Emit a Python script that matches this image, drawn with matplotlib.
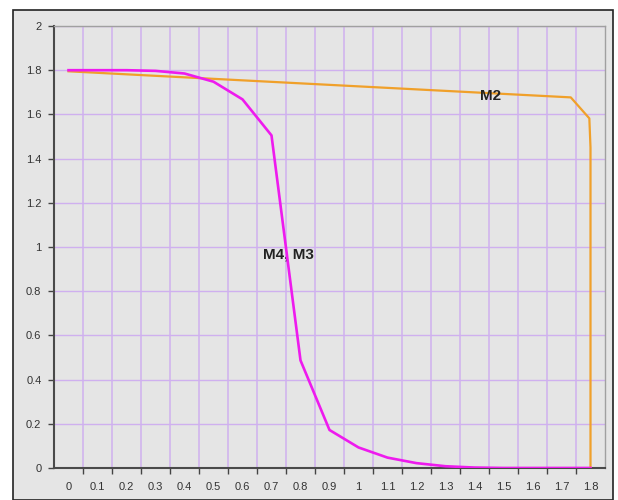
import matplotlib
matplotlib.use("Agg")
import matplotlib.pyplot as plt
from matplotlib.patches import Rectangle
import numpy as np

matplotlib.rcParams['font.family'] = ['Liberation Sans', 'DejaVu Sans']

# Category labels along x (0 .. 1.8)
x_labels = ["0", "0.1", "0.2", "0.3", "0.4", "0.5", "0.6", "0.7", "0.8", "0.9",
            "1", "1.1", "1.2", "1.3", "1.4", "1.5", "1.6", "1.7", "1.8"]
x_values = [0.0, 0.1, 0.2, 0.3, 0.4, 0.5, 0.6, 0.7, 0.8, 0.9,
            1.0, 1.1, 1.2, 1.3, 1.4, 1.5, 1.6, 1.7, 1.8]

# M4, M3 curve
m43_y = [1.80, 1.80, 1.80, 1.797, 1.785, 1.748, 1.668, 1.505, 0.487, 0.172,
         0.093, 0.047, 0.022, 0.008, 0.002, 0.0, 0.0, 0.0, 0.0]

# M2 curve
m2_x = [0.0, 1.732, 1.796, 1.80, 1.80]
m2_y = [1.795, 1.677, 1.582, 1.45, 0.0]

y_ticks = [0, 0.2, 0.4, 0.6, 0.8, 1, 1.2, 1.4, 1.6, 1.8, 2]
y_labels = ["0", "0.2", "0.4", "0.6", "0.8", "1", "1.2", "1.4", "1.6", "1.8", "2"]

BG = "#e5e5e5"
GRID = "#cfb0ef"
TXT = "#333333"

W, H = 618, 500
fig = plt.figure(figsize=(W / 100, H / 100), dpi=100)
fig.patch.set_facecolor("white")

# outer chart frame (drawn behind the axes)
frame = Rectangle((13 / W, 0), 600 / W, (H - 10) / H, transform=fig.transFigure,
                  facecolor=BG, edgecolor="#222222", linewidth=1.2, zorder=-10)
fig.patches.append(frame)

ax = fig.add_axes([54 / W, (H - 468) / H, (605 - 54) / W, (468 - 26) / H])
ax.set_facecolor(BG)

ax.plot(m2_x, m2_y, color="#f0a02a", linewidth=1.6, zorder=3)
ax.plot(x_values, m43_y, color="#ee1bee", linewidth=1.9, zorder=4)

ax.text(1.455, 1.683, "M2", fontsize=11, fontweight="bold", color="#222222", ha="center", va="center")
ax.text(0.757, 0.968, "M4, M3", fontsize=11, fontweight="bold", color="#222222", ha="center", va="center")

ax.set_xlim(-0.05, 1.85)
ax.set_ylim(0, 2)

ax.set_xticks(x_values)
ax.set_xticklabels(x_labels, fontsize=8, color=TXT)
ax.set_xticks(np.arange(1, 19) * 0.1 - 0.05, minor=True)
ax.tick_params(axis="x", which="major", length=0, pad=10)
ax.tick_params(axis="x", which="minor", length=4, width=1, color="#444444", direction="out")

ax.set_yticks(y_ticks)
ax.set_yticklabels(y_labels, fontsize=8, color=TXT)
ax.tick_params(axis="y", which="major", length=4, width=1, color="#444444", pad=5)

ax.grid(True, axis="x", which="minor", color=GRID, linewidth=1.1)
ax.grid(True, axis="y", which="major", color=GRID, linewidth=1.0)
ax.set_axisbelow(True)

for s in ["left", "bottom"]:
    ax.spines[s].set_color("#4a4a4a")
    ax.spines[s].set_linewidth(1.5)
for s in ["top", "right"]:
    ax.spines[s].set_color("#a0a0a0")
    ax.spines[s].set_linewidth(1.0)

fig.savefig("out.png", dpi=100)
